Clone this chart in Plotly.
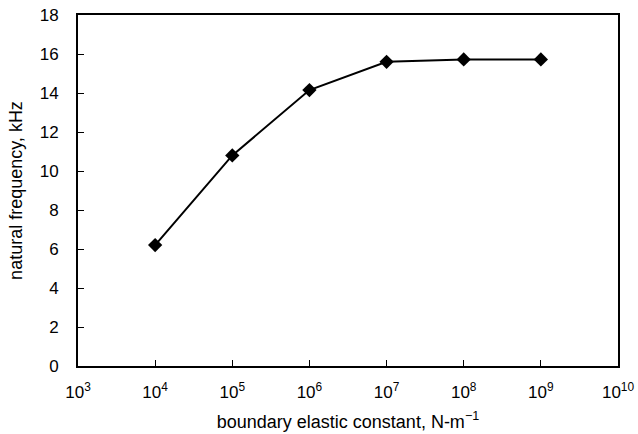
import plotly.graph_objects as go

stiffness = [1e4, 1e5, 1e6, 1e7, 1e8, 1e9]
frequency_khz = [6.2, 10.8, 14.15, 15.6, 15.72, 15.72]
x_tick_vals = [1e3, 1e4, 1e5, 1e6, 1e7, 1e8, 1e9, 1e10]
x_tick_text = ["10<sup>3</sup>", "10<sup>4</sup>", "10<sup>5</sup>", "10<sup>6</sup>",
               "10<sup>7</sup>", "10<sup>8</sup>", "10<sup>9</sup>", "10<sup>10</sup>"]
y_tick_vals = [0, 2, 4, 6, 8, 10, 12, 14, 16, 18]

fig = go.Figure()
fig.add_trace(go.Scatter(
    x=stiffness, y=frequency_khz, mode="lines+markers",
    line=dict(color="black", width=2),
    marker=dict(symbol="diamond", size=11, color="black"),
    showlegend=False,
))

font = "Liberation Sans"
fig.update_layout(
    width=638, height=434, autosize=False,
    margin=dict(l=78, r=20, t=15, b=68, autoexpand=False),
    paper_bgcolor="white", plot_bgcolor="white",
    font=dict(family=font, size=17, color="black"),
    xaxis=dict(
        type="log", range=[3, 10], automargin=False,
        tickvals=x_tick_vals, ticktext=x_tick_text,
        ticks="inside", ticklen=6, tickwidth=1, tickcolor="black",
        ticklabelstandoff=10,
        showline=True, linecolor="black", linewidth=2, mirror=True,
        showgrid=False, zeroline=False,
        title=dict(text="boundary elastic constant, N-m<sup>−1</sup>", font=dict(family=font, size=18), standoff=14),
        tickfont=dict(family=font, size=17),
    ),
    yaxis=dict(
        range=[0, 18], tickvals=y_tick_vals, automargin=False,
        ticks="inside", ticklen=6, tickwidth=1, tickcolor="black",
        ticklabelstandoff=14,
        showline=True, linecolor="black", linewidth=2, mirror=True,
        showgrid=False, zeroline=False,
        title=dict(text="natural frequency, kHz", font=dict(family=font, size=18), standoff=12),
        tickfont=dict(family=font, size=17),
    ),
)

fig.write_html("out.html", config={"displayModeBar": False},
               post_script="document.body.style.margin='0';")
